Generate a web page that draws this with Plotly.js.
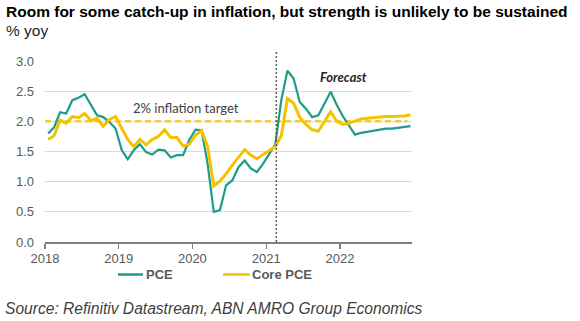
<!DOCTYPE html>
<html>
<head>
<meta charset="utf-8">
<script src="https://cdn.plot.ly/plotly-3.0.1.min.js"></script>
<style>html,body{margin:0;padding:0;background:#fff;}#chart{width:580px;height:321px;}</style>
</head>
<body>
<div id="chart"></div>
<script>
// Monthly observations Jan 2018 - Dec 2022 (actuals to Feb 2021, forecast afterwards)
const startYear = 2018;
const monthCount = 60;
const months = [];
for (let i = 0; i < monthCount; i++) {
  const y = startYear + Math.floor(i / 12);
  const m = (i % 12) + 1;
  months.push(y + '-' + (m < 10 ? '0' + m : m) + '-01');
}

const pce = [
  1.80, 1.90, 2.15, 2.13, 2.35, 2.39, 2.45, 2.28, 2.10, 2.07, 1.99, 1.88,
  1.52, 1.37, 1.52, 1.62, 1.49, 1.45, 1.53, 1.52, 1.40, 1.44, 1.44, 1.69,
  1.86, 1.85, 1.30, 0.50, 0.53, 0.94, 1.02, 1.24, 1.35, 1.22, 1.16, 1.30,
  1.46, 1.62, 2.35, 2.84, 2.71, 2.32, 2.21, 2.07, 2.10, 2.29, 2.49, 2.27,
  2.08, 1.93, 1.78, 1.81, 1.83, 1.85, 1.87, 1.88, 1.88, 1.89, 1.90, 1.92
];

const corePce = [
  1.70, 1.76, 2.02, 1.97, 2.08, 2.06, 2.13, 2.01, 2.05, 1.92, 2.03, 2.08,
  1.88, 1.70, 1.58, 1.70, 1.61, 1.70, 1.75, 1.86, 1.73, 1.73, 1.59, 1.62,
  1.77, 1.85, 1.58, 0.93, 1.01, 1.13, 1.27, 1.40, 1.53, 1.44, 1.38, 1.45,
  1.52, 1.58, 1.76, 2.38, 2.30, 2.07, 1.95, 1.86, 1.84, 2.00, 2.16, 2.00,
  1.95, 1.97, 2.01, 2.04, 2.05, 2.06, 2.08, 2.08, 2.08, 2.08, 2.09, 2.11
];

const targetLevel = 2.0;
const forecastStart = '2021-02-20';
const seriesNames = ['PCE', 'Core PCE'];
const yTicks = [0, 0.5, 1, 1.5, 2, 2.5, 3];

const tealColor = '#1f9a8b';
const yellowColor = '#f3c300';

// plot area: left 45, right 412, top 61, bottom 242 (pixels)
const PL = 45, PW = 367, PB = 242, PH = 181;
const px = v => (v - PL) / PW;
const py = v => (PB - v) / PH;

const traces = [
  {
    x: [months[0], months[monthCount - 1]],
    y: [targetLevel, targetLevel],
    mode: 'lines',
    line: {color: '#f5cb3c', width: 2.5, dash: '6px,4px'},
    showlegend: false,
    hoverinfo: 'skip'
  },
  {
    x: months, y: pce, name: seriesNames[0], mode: 'lines',
    xperiod: 'M1', xperiodalignment: 'middle',
    line: {color: tealColor, width: 2.2}, showlegend: false
  },
  {
    x: months, y: corePce, name: seriesNames[1], mode: 'lines',
    xperiod: 'M1', xperiodalignment: 'middle',
    line: {color: yellowColor, width: 3}, showlegend: false
  }
];

const legendFont = {size: 13, color: '#595959', family: 'Liberation Sans, Arial, sans-serif', weight: 'bold'};

const layout = {
  width: 580, height: 321,
  margin: {l: 45, r: 168, t: 61, b: 79, pad: 0},
  paper_bgcolor: '#ffffff', plot_bgcolor: '#ffffff',
  font: {family: 'Liberation Sans, Arial, sans-serif', color: '#595959'},
  showlegend: false,
  title: {
    text: '<b>Room for some catch-up in inflation, but strength is unlikely to be sustained</b>',
    xref: 'container', yref: 'container', x: 6 / 580, xanchor: 'left',
    y: 1 - 12 / 321, yanchor: 'middle',
    font: {size: 15.5, color: '#000000', family: 'Liberation Sans, Arial, sans-serif'}
  },
  xaxis: {
    type: 'date',
    range: ['2018-01-01', '2022-12-24'],
    tick0: '2018-01-01', dtick: 'M12', tickformat: '%Y',
    ticks: 'outside', ticklen: 5, tickwidth: 1.5, tickcolor: '#7f7f7f',
    showline: true, linecolor: '#7f7f7f', linewidth: 2,
    showgrid: false, zeroline: false,
    ticklabelstandoff: -2,
    tickfont: {size: 13, color: '#595959'}
  },
  yaxis: {
    range: [0, 3], tickvals: yTicks, tickformat: '.1f',
    showgrid: true, gridcolor: '#d9d9d9', gridwidth: 1,
    zeroline: false, showline: false, ticks: '',
    ticklabelstandoff: 10,
    tickfont: {size: 13, color: '#595959'}
  },
  shapes: [
    {
      type: 'line', xref: 'x', yref: 'paper',
      x0: forecastStart, x1: forecastStart, y0: 0, y1: 1.05,
      line: {color: '#595959', width: 1.5, dash: '2px,2px'}
    },
    // legend samples
    {
      type: 'line', xref: 'paper', yref: 'paper',
      x0: px(118), x1: px(143), y0: py(274.5), y1: py(274.5),
      line: {color: tealColor, width: 2.5}
    },
    {
      type: 'line', xref: 'paper', yref: 'paper',
      x0: px(223), x1: px(250), y0: py(274.5), y1: py(274.5),
      line: {color: yellowColor, width: 2.5}
    }
  ],
  annotations: [
    {
      text: '% yoy', xref: 'paper', yref: 'paper',
      x: px(4), xanchor: 'left', y: py(30), yanchor: 'middle',
      showarrow: false, font: {size: 15.5, color: '#262626'}
    },
    {
      text: '2% inflation target', xref: 'x', yref: 'y',
      x: '2019-12-01', y: 2.22, xanchor: 'center', yanchor: 'middle',
      showarrow: false, font: {family: 'Lato, sans-serif', size: 13, color: '#404040'}
    },
    {
      text: '<b><i>Forecast</i></b>', xref: 'x', yref: 'y',
      x: '2022-01-19', y: 2.74, xanchor: 'center', yanchor: 'middle',
      showarrow: false, font: {family: 'Lato, sans-serif', size: 13, color: '#262626'}
    },
    {
      text: seriesNames[0], xref: 'paper', yref: 'paper',
      x: px(144), xanchor: 'left', y: py(274.5), yanchor: 'middle',
      showarrow: false, font: legendFont
    },
    {
      text: seriesNames[1], xref: 'paper', yref: 'paper',
      x: px(250), xanchor: 'left', y: py(274.5), yanchor: 'middle',
      showarrow: false, font: legendFont
    },
    {
      text: '<i>Source: Refinitiv Datastream, ABN AMRO Group Economics</i>',
      xref: 'paper', yref: 'paper',
      x: px(3), xanchor: 'left', y: py(308.5), yanchor: 'middle',
      showarrow: false, font: {size: 15.6, color: '#404040'}
    }
  ]
};

Plotly.newPlot('chart', traces, layout, {displayModeBar: false, staticPlot: true});
</script>
</body>
</html>
